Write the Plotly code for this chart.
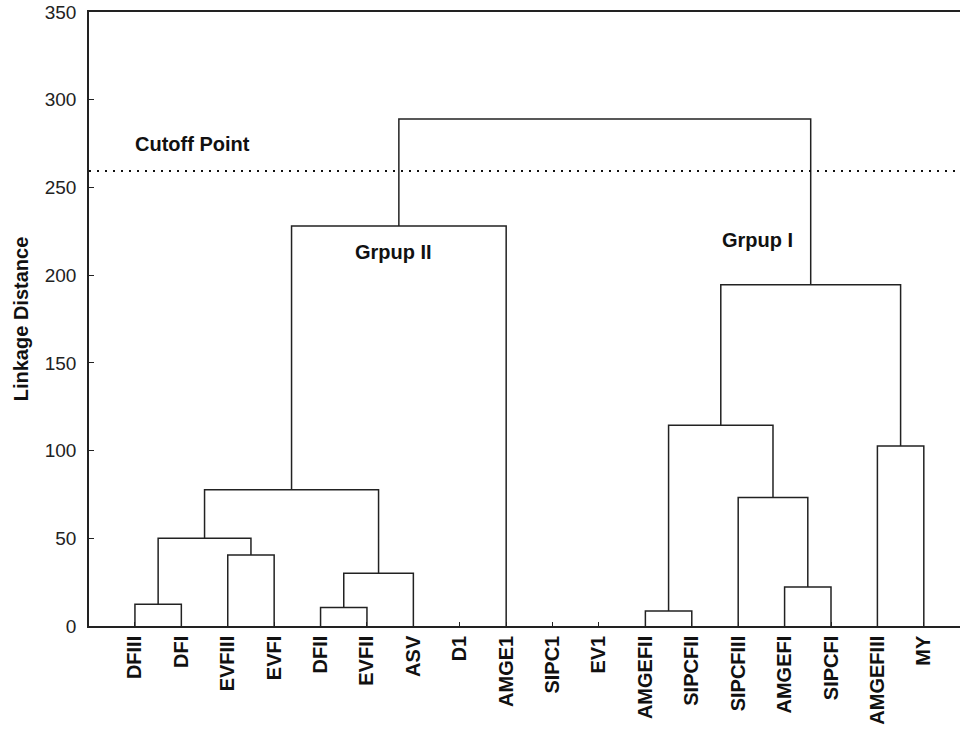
import plotly.graph_objects as go

# ---- data ----
leaves = ["DFIII", "DFI", "EVFIII", "EVFI", "DFII", "EVFII", "ASV", "D1", "AMGE1",
          "SIPC1", "EV1", "AMGEFII", "SIPCFII", "SIPCFIII", "AMGEFI", "SIPCFI",
          "AMGEFIII", "MY"]

# merges: (name, left child, right child, linkage distance)
merge_names = ["m1", "m2", "m3", "m4", "m5", "m6", "m7",
               "m8", "m9", "m10", "m11", "m12", "m13", "m14"]
merge_left = ["DFIII", "EVFIII", "m1", "DFII", "m4", "m3", "m6",
              "AMGEFII", "AMGEFI", "SIPCFIII", "m8", "AMGEFIII", "m11", "m7"]
merge_right = ["DFI", "EVFI", "m2", "EVFII", "ASV", "m5", "AMGE1",
               "SIPCFII", "SIPCFI", "m9", "m10", "MY", "m12", "m13"]
merge_height = [12.4, 40.5, 50.0, 10.6, 30.0, 77.7, 228.0,
                8.5, 22.2, 73.2, 114.4, 102.6, 194.5, 289.0]

cutoff = 259.4
y_ticks = [0, 50, 100, 150, 200, 250, 300, 350]

annot_text = ["Cutoff Point", "Grpup II", "Grpup I"]
annot_x = [2.24, 6.57, 14.41]
annot_y = [275, 213, 220]

# ---- build dendrogram path ----
pos = {name: i + 1 for i, name in enumerate(leaves)}
hgt = {name: 0.0 for name in leaves}
xs, ys = [], []
for n, l, r, h in zip(merge_names, merge_left, merge_right, merge_height):
    xl, xr = pos[l], pos[r]
    xs += [xl, xl, xr, xr, None]
    ys += [hgt[l], h, h, hgt[r], None]
    pos[n] = (xl + xr) / 2
    hgt[n] = h

LINE = "#222222"
FONT = "Liberation Sans, Arial, sans-serif"

fig = go.Figure()
fig.add_trace(go.Scatter(x=xs, y=ys, mode="lines",
                         line=dict(color=LINE, width=1.5),
                         hoverinfo="skip", showlegend=False))

fig.add_shape(type="line", xref="paper", x0=0, x1=1, yref="y", y0=cutoff, y1=cutoff,
              line=dict(color="#111111", width=2, dash="2px,6px"))

for t, x, y in zip(annot_text, annot_x, annot_y):
    fig.add_annotation(x=x, y=y, text=t, showarrow=False, xanchor="center",
                       yanchor="middle",
                       font=dict(family=FONT, size=20, color="#111111", weight="bold"))

fig.update_layout(
    width=960, height=729,
    margin=dict(l=89, r=0, t=12, b=103),
    paper_bgcolor="white", plot_bgcolor="white",
    showlegend=False,
    font=dict(family=FONT, color="#222222"),
)
fig.update_xaxes(
    range=[0.01, 18.78], tickmode="array",
    tickvals=list(range(1, len(leaves) + 1)), ticktext=leaves,
    tickangle=-90, ticks="inside", ticklen=4, tickwidth=1, tickcolor=LINE,
    showline=True, linecolor=LINE, linewidth=1.5, mirror=True,
    showgrid=False, zeroline=False,
    tickfont=dict(family=FONT, size=20, color="#111111", weight="bold"),
)
fig.update_yaxes(
    range=[0, 350], tickmode="array", tickvals=y_ticks,
    ticks="inside", ticklen=5, tickwidth=1, tickcolor=LINE,
    showline=True, linecolor=LINE, linewidth=1.5, mirror=False,
    showgrid=False, zeroline=False, ticklabelstandoff=7,
    tickfont=dict(family=FONT, size=19, color="#222222"),
    title=dict(text="Linkage Distance", standoff=11,
               font=dict(family=FONT, size=20, color="#111111", weight="bold")),
)

# remove the default page margin so the figure sits at the window's top-left
fig.write_html("out.html",
               config={"displayModeBar": False},
               post_script="document.body.style.margin='0';document.body.style.overflow='hidden';")
